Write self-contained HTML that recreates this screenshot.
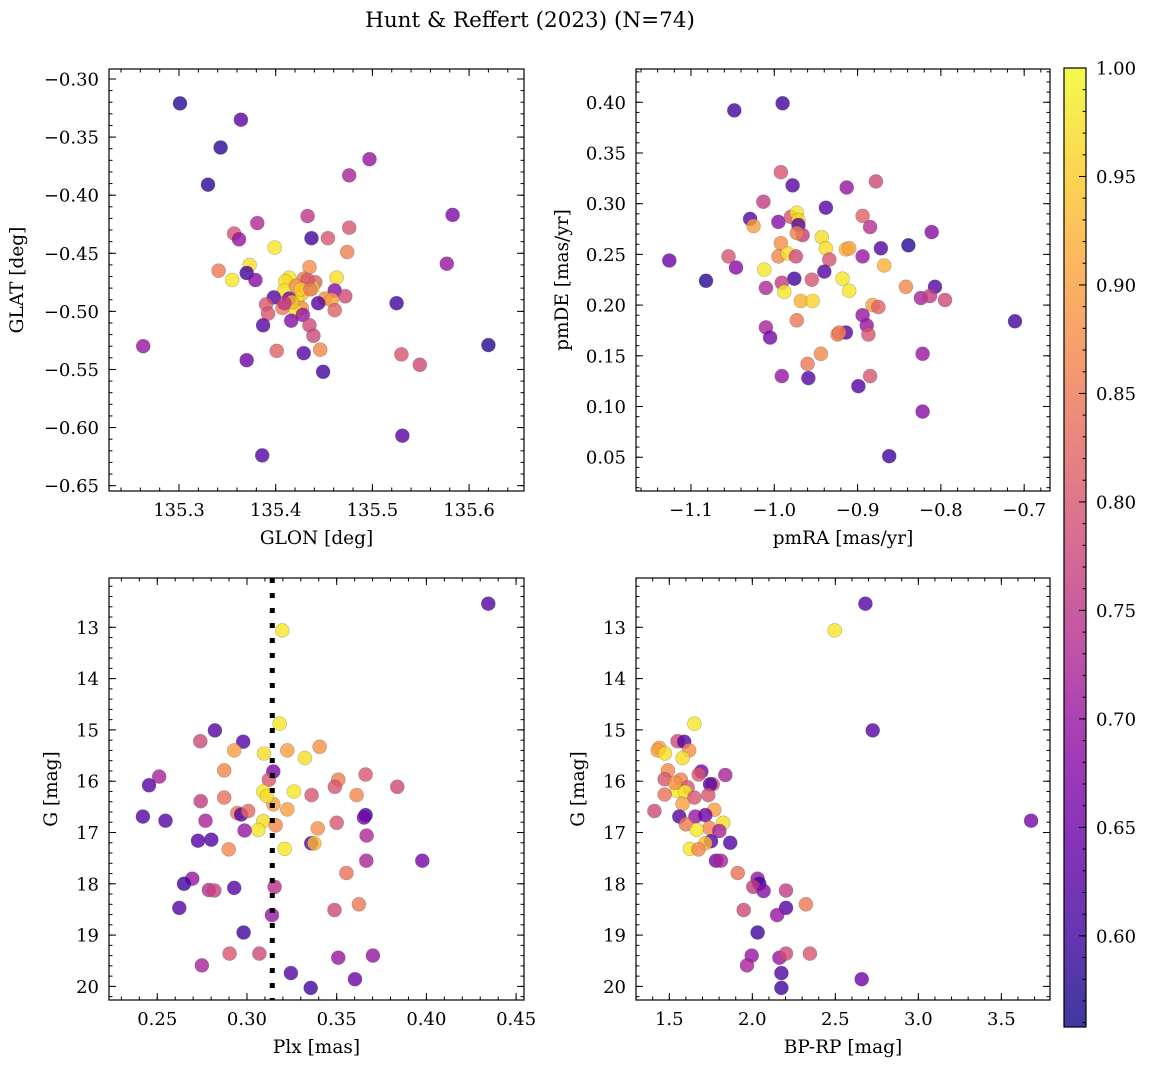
<!DOCTYPE html>
<html><head><meta charset="utf-8">
<style>
html,body{margin:0;padding:0;background:#fff;}
svg{display:block;font-family:"DejaVu Serif","Liberation Serif",serif;}
</style></head>
<body>
<svg id="fig" width="1149" height="1068" viewBox="0 0 1149 1068" xmlns="http://www.w3.org/2000/svg">
<text x="530" y="27" font-size="21.5" text-anchor="middle">Hunt &amp; Reffert (2023) (N=74)</text>
<defs>
<linearGradient id="cbgrad" x1="0" y1="1" x2="0" y2="0">
<stop offset="0" stop-color="#0d0887"/><stop offset="0.1" stop-color="#41049d"/><stop offset="0.2" stop-color="#6a00a8"/><stop offset="0.3" stop-color="#8f0da4"/><stop offset="0.4" stop-color="#b12a90"/><stop offset="0.5" stop-color="#cc4778"/><stop offset="0.6" stop-color="#e16462"/><stop offset="0.7" stop-color="#f2844b"/><stop offset="0.8" stop-color="#fca636"/><stop offset="0.9" stop-color="#fcce25"/><stop offset="1" stop-color="#f0f921"/>
</linearGradient>
</defs>
</svg>
<script>
// ---- data ----
const p1_glon=[135.301,135.364,135.343,135.330,135.497,135.476,135.583,135.433,135.381,135.476,135.357,135.362,135.437,135.454,135.399,135.474,135.577,135.373,135.435,135.341,135.370,135.355,135.379,135.414,135.410,135.429,135.441,135.463,135.438,135.409,135.461,135.427,135.398,135.422,135.451,135.458,135.472,135.414,135.444,135.525,135.390,135.392,135.407,135.427,135.421,135.428,135.461,135.416,135.387,135.435,135.439,135.263,135.620,135.401,135.429,135.446,135.370,135.530,135.549,135.449,135.531,135.386,135.421,135.433,135.417,135.426,135.409,135.436];
const p1_glat=[-0.321,-0.335,-0.359,-0.391,-0.369,-0.383,-0.417,-0.418,-0.424,-0.428,-0.433,-0.438,-0.437,-0.437,-0.445,-0.449,-0.459,-0.460,-0.462,-0.465,-0.467,-0.473,-0.473,-0.471,-0.474,-0.472,-0.475,-0.471,-0.480,-0.482,-0.482,-0.485,-0.488,-0.489,-0.489,-0.490,-0.487,-0.489,-0.493,-0.493,-0.494,-0.502,-0.497,-0.497,-0.500,-0.503,-0.499,-0.508,-0.512,-0.512,-0.521,-0.530,-0.529,-0.534,-0.536,-0.533,-0.542,-0.537,-0.546,-0.552,-0.607,-0.624,-0.478,-0.473,-0.492,-0.481,-0.493,-0.481];
const p1_prob=[0.58,0.63,0.58,0.58,0.70,0.72,0.67,0.75,0.73,0.80,0.80,0.70,0.60,0.80,0.98,0.86,0.70,0.97,0.88,0.85,0.60,0.98,0.68,0.98,0.97,0.86,0.82,0.97,0.97,0.97,0.68,0.94,0.62,0.98,0.88,0.90,0.78,0.66,0.62,0.60,0.80,0.80,0.85,0.88,0.98,0.70,0.82,0.68,0.62,0.78,0.78,0.70,0.58,0.82,0.62,0.87,0.65,0.80,0.78,0.60,0.63,0.62,0.88,0.80,0.93,0.95,0.75,0.85];

const p2_pmra=[-1.048,-0.990,-0.992,-0.978,-0.913,-0.878,-1.013,-0.938,-1.029,-1.025,-0.995,-0.980,-0.973,-0.971,-0.971,-0.894,-0.885,-0.811,-0.966,-0.973,-0.943,-0.992,-0.938,-0.914,-0.910,-0.872,-0.839,-1.126,-1.055,-0.995,-0.984,-0.974,-0.934,-0.894,-0.868,-1.046,-1.012,-0.940,-1.082,-0.976,-0.955,-0.918,-0.991,-1.010,-0.988,-0.910,-0.842,-0.807,-0.824,-0.813,-0.795,-0.968,-0.954,-0.882,-0.875,-0.894,-0.889,-0.887,-0.711,-0.973,-1.010,-1.005,-0.914,-0.924,-0.922,-0.944,-0.822,-0.960,-0.991,-0.959,-0.885,-0.899,-0.822,-0.862];
const p2_pmde=[0.392,0.399,0.331,0.318,0.316,0.322,0.302,0.296,0.285,0.278,0.282,0.287,0.291,0.284,0.279,0.288,0.277,0.272,0.269,0.271,0.267,0.261,0.256,0.255,0.256,0.256,0.259,0.244,0.248,0.248,0.251,0.248,0.245,0.248,0.239,0.237,0.235,0.233,0.224,0.226,0.225,0.226,0.222,0.217,0.213,0.214,0.218,0.218,0.207,0.209,0.205,0.204,0.204,0.200,0.198,0.190,0.180,0.171,0.184,0.185,0.178,0.168,0.173,0.171,0.173,0.152,0.152,0.142,0.130,0.128,0.130,0.120,0.095,0.051];
const p2_prob=[0.60,0.60,0.80,0.62,0.70,0.78,0.76,0.62,0.62,0.90,0.68,0.80,0.98,0.96,0.62,0.82,0.74,0.68,0.76,0.86,0.97,0.88,0.97,0.93,0.90,0.62,0.58,0.65,0.80,0.87,0.97,0.78,0.80,0.70,0.92,0.68,0.98,0.62,0.58,0.60,0.80,0.98,0.76,0.73,0.98,0.98,0.87,0.62,0.72,0.76,0.78,0.92,0.96,0.90,0.82,0.70,0.70,0.80,0.60,0.85,0.72,0.66,0.62,0.86,0.85,0.87,0.70,0.85,0.70,0.62,0.80,0.62,0.68,0.60];

const p3_plx=[0.4345,0.3197,0.3182,0.2821,0.2740,0.2979,0.2929,0.3095,0.3225,0.3323,0.3405,0.2873,0.3147,0.2511,0.2454,0.3122,0.3509,0.3661,0.3838,0.3490,0.3091,0.3262,0.3360,0.3611,0.2742,0.2873,0.3147,0.3225,0.2946,0.2968,0.3007,0.2420,0.2546,0.2769,0.3091,0.3160,0.3063,0.2987,0.3394,0.3500,0.3661,0.3652,0.3667,0.2727,0.2801,0.3358,0.3375,0.3210,0.2898,0.3665,0.3977,0.3554,0.2695,0.2649,0.2929,0.2788,0.2818,0.3154,0.3624,0.3488,0.2623,0.3139,0.2981,0.2903,0.3069,0.3509,0.3702,0.2749,0.3245,0.3602,0.3355,0.3111];
const p3_g=[12.54,13.06,14.88,15.01,15.22,15.23,15.40,15.46,15.40,15.55,15.33,15.79,15.81,15.91,16.08,15.97,15.97,15.87,16.11,16.11,16.20,16.20,16.27,16.27,16.39,16.32,16.45,16.55,16.62,16.65,16.58,16.69,16.77,16.77,16.78,16.86,16.95,16.96,16.92,16.81,16.66,16.71,17.06,17.16,17.14,17.21,17.21,17.32,17.33,17.55,17.55,17.79,17.90,18.00,18.08,18.12,18.13,18.06,18.40,18.51,18.47,18.61,18.95,19.36,19.36,19.44,19.40,19.59,19.74,19.86,20.03,16.29];
const p3_prob=[0.62,0.98,0.98,0.62,0.78,0.62,0.90,0.97,0.90,0.97,0.88,0.87,0.66,0.72,0.62,0.80,0.86,0.80,0.78,0.80,0.98,0.98,0.80,0.87,0.76,0.84,0.90,0.90,0.85,0.62,0.83,0.62,0.62,0.72,0.97,0.87,0.98,0.70,0.88,0.80,0.60,0.66,0.73,0.62,0.62,0.62,0.93,0.98,0.87,0.72,0.66,0.84,0.70,0.60,0.62,0.74,0.77,0.74,0.85,0.78,0.62,0.70,0.60,0.80,0.78,0.70,0.70,0.72,0.62,0.65,0.60,0.97];
const plx_ref=0.3141;

const p4_bprp=[2.681,2.496,1.651,2.725,1.550,1.590,1.440,1.430,1.620,1.474,1.580,1.492,1.693,1.837,1.472,1.570,1.677,1.761,1.745,1.610,1.546,1.596,1.472,1.651,1.735,1.580,1.410,1.771,1.560,1.657,1.717,1.600,1.825,1.741,1.665,1.801,1.751,1.717,1.867,1.624,1.675,1.781,1.811,1.912,3.679,2.032,2.042,2.006,2.068,2.203,2.323,2.203,1.948,2.149,2.032,1.996,2.163,2.203,2.347,1.968,2.175,2.659,2.175,1.534];
const p4_g=[12.54,13.06,14.88,15.01,15.22,15.23,15.35,15.40,15.40,15.46,15.55,15.79,15.81,15.88,15.96,15.97,15.87,16.06,16.06,16.12,16.19,16.21,16.26,16.32,16.27,16.44,16.58,16.56,16.69,16.69,16.66,16.84,16.81,16.91,16.95,16.97,17.17,17.21,17.20,17.32,17.33,17.55,17.55,17.79,16.77,17.90,18.00,18.06,18.14,18.13,18.40,18.47,18.51,18.61,18.95,19.40,19.44,19.36,19.36,19.59,19.74,19.86,20.03,16.03];
const p4_prob=[0.62,0.98,0.98,0.62,0.78,0.62,0.90,0.90,0.88,0.97,0.97,0.87,0.66,0.72,0.80,0.86,0.80,0.78,0.62,0.80,0.98,0.98,0.84,0.80,0.80,0.90,0.78,0.90,0.62,0.70,0.65,0.85,0.97,0.87,0.98,0.72,0.62,0.93,0.62,0.98,0.87,0.66,0.72,0.84,0.66,0.70,0.60,0.76,0.68,0.76,0.85,0.62,0.78,0.70,0.60,0.70,0.70,0.78,0.80,0.72,0.62,0.65,0.60,0.88];

const cb_ticks=[0.60,0.65,0.70,0.75,0.80,0.85,0.90,0.95,1.00];
const vmin=0.558, vmax=1.0;

// ---- helpers ----
const NS="http://www.w3.org/2000/svg";
const svg=document.getElementById('fig');
const FS=18, LFS=18.5;
function mk(tag,attrs,parent){const e=document.createElementNS(NS,tag);for(const k in attrs)e.setAttribute(k,attrs[k]);(parent||svg).appendChild(e);return e;}
const stops=[[0,[13,8,135]],[0.1,[65,4,157]],[0.2,[106,0,168]],[0.3,[143,13,164]],[0.4,[177,42,144]],[0.5,[204,71,120]],[0.6,[225,100,98]],[0.7,[242,132,75]],[0.8,[252,166,54]],[0.9,[252,206,37]],[1,[240,249,33]]];
function plasma(v){let t=(v-vmin)/(vmax-vmin);t=Math.max(0,Math.min(1,t));for(let i=1;i<stops.length;i++){if(t<=stops[i][0]){const a=stops[i-1],b=stops[i];const f=(t-a[0])/(b[0]-a[0]);const c=a[1].map((x,j)=>Math.round(x+(b[1][j]-x)*f));return `rgb(${c[0]},${c[1]},${c[2]})`;}}return 'rgb(240,249,33)';}
function fmt(v,d){const s=Math.abs(v).toFixed(d);return (v<-1e-9?'\u2212':'')+s;}

function panel(cfg){
  const {name,L,T,W,H,xd,yd,xt,yt,xminor,yminor,xdec,ydec,xlabel,ylabel,ylabx,xs,ys,cs}=cfg;
  const g=mk('g',{});
  
  
  const sx=v=>L+(v-xd[0])/(xd[1]-xd[0])*W;
  const sy=v=>T+(v-yd[0])/(yd[1]-yd[0])*H;
  const pg=mk('g',{},g);
  
  
  for(let i=0;i<xs.length;i++){
    const c=mk('circle',{cx:sx(xs[i]).toFixed(1),cy:sy(ys[i]).toFixed(1),r:7,fill:plasma(cs[i]),'fill-opacity':0.8,stroke:'#444','stroke-opacity':0.35,'stroke-width':0.6},pg);
    
    
  }
  if(cfg.extra)cfg.extra(g,sx,sy);
  const tk=mk('g',{stroke:'#000','stroke-width':1},g);
  
  
  const x0=Math.min(xd[0],xd[1]),x1=Math.max(xd[0],xd[1]),y0=Math.min(yd[0],yd[1]),y1=Math.max(yd[0],yd[1]);
  for(let v=Math.ceil(x0/xminor)*xminor;v<=x1;v+=xminor){const x=sx(v);mk('line',{x1:x,y1:T+H,x2:x,y2:T+H-3.5},tk);mk('line',{x1:x,y1:T,x2:x,y2:T+3.5},tk);}
  for(let v=Math.ceil(y0/yminor)*yminor;v<=y1;v+=yminor){const y=sy(v);mk('line',{x1:L,y1:y,x2:L+3.5,y2:y},tk);mk('line',{x1:L+W,y1:y,x2:L+W-3.5,y2:y},tk);}
  xt.forEach(v=>{const x=sx(v);mk('line',{x1:x,y1:T+H,x2:x,y2:T+H-7},tk);mk('line',{x1:x,y1:T,x2:x,y2:T+7},tk);
    const t=mk('text',{x:x,y:T+H+25,'font-size':FS,'text-anchor':'middle'},g);t.textContent=fmt(v,xdec);
    });
  yt.forEach(v=>{const y=sy(v);mk('line',{x1:L,y1:y,x2:L+7,y2:y},tk);mk('line',{x1:L+W,y1:y,x2:L+W-7,y2:y},tk);
    const t=mk('text',{x:L-10,y:y+6.5,'font-size':FS,'text-anchor':'end'},g);t.textContent=fmt(v,ydec);
    });
  const fr=mk('rect',{x:L,y:T,width:W,height:H,fill:'none',stroke:'#000','stroke-width':1.2},g);
  
  const xl=mk('text',{x:L+W/2,y:T+H+53,'font-size':LFS,'text-anchor':'middle'},g);xl.textContent=xlabel;
  
  const yl=mk('text',{x:ylabx,y:T+H/2,'font-size':LFS,'text-anchor':'middle',transform:`rotate(-90 ${ylabx} ${T+H/2})`},g);yl.textContent=ylabel;
  
}

panel({name:'glon-glat-panel',L:109,T:69,W:415,H:422,xd:[135.2276,135.6568],yd:[-0.2914,-0.6546],
  xt:[135.3,135.4,135.5,135.6],yt:[-0.30,-0.35,-0.40,-0.45,-0.50,-0.55,-0.60,-0.65],xminor:0.02,yminor:0.01,xdec:1,ydec:2,
  xlabel:'GLON [deg]',ylabel:'GLAT [deg]',ylabx:23,xs:p1_glon,ys:p1_glat,cs:p1_prob});
panel({name:'pm-panel',L:636,T:69,W:414,H:422,xd:[-1.166,-0.669],yd:[0.4328,0.0167],
  xt:[-1.1,-1.0,-0.9,-0.8,-0.7],yt:[0.40,0.35,0.30,0.25,0.20,0.15,0.10,0.05],xminor:0.02,yminor:0.01,xdec:1,ydec:2,
  xlabel:'pmRA [mas/yr]',ylabel:'pmDE [mas/yr]',ylabx:568,xs:p2_pmra,ys:p2_pmde,cs:p2_prob});
panel({name:'plx-g-panel',L:109,T:578,W:415,H:422,xd:[0.2231,0.4544],yd:[12.039,20.265],
  xt:[0.25,0.30,0.35,0.40,0.45],yt:[13,14,15,16,17,18,19,20],xminor:0.01,yminor:0.2,xdec:2,ydec:0,
  xlabel:'Plx [mas]',ylabel:'G [mag]',ylabx:57,xs:p3_plx,ys:p3_g,cs:p3_prob,
  extra:(g,sx,sy)=>{const l=mk('line',{x1:sx(plx_ref),x2:sx(plx_ref),y1:578,y2:1000,stroke:'#000','stroke-width':5,'stroke-dasharray':'5 10'},g);
    }});
panel({name:'cmd-panel',L:636,T:578,W:414,H:422,xd:[1.2994,3.793],yd:[12.039,20.265],
  xt:[1.5,2.0,2.5,3.0,3.5],yt:[13,14,15,16,17,18,19,20],xminor:0.1,yminor:0.2,xdec:1,ydec:0,
  xlabel:'BP-RP [mag]',ylabel:'G [mag]',ylabx:584,xs:p4_bprp,ys:p4_g,cs:p4_prob});

// colorbar
const cbL=1064,cbT=68,cbW=22,cbB=1027;
const cby=v=>cbB-(v-vmin)/(vmax-vmin)*(cbB-cbT);
const cbg=mk('g',{});


mk('rect',{x:cbL,y:cbT,width:cbW,height:cbB-cbT,fill:'url(#cbgrad)','fill-opacity':0.8},cbg);
for(let v=0.56;v<=1.0001;v+=0.01){const y=cby(v);mk('line',{x1:cbL+cbW,y1:y,x2:cbL+cbW-3.5,y2:y,stroke:'#000'},cbg);}
cb_ticks.forEach(v=>{const y=cby(v);mk('line',{x1:cbL+cbW,y1:y,x2:cbL+cbW-7,y2:y,stroke:'#000'},cbg);
  const t=mk('text',{x:1096,y:y+6.5,'font-size':FS},cbg);t.textContent=v.toFixed(2);
  });
mk('rect',{x:cbL,y:cbT,width:cbW,height:cbB-cbT,fill:'none',stroke:'#000','stroke-width':1.2},cbg);
</script>
</body></html>
